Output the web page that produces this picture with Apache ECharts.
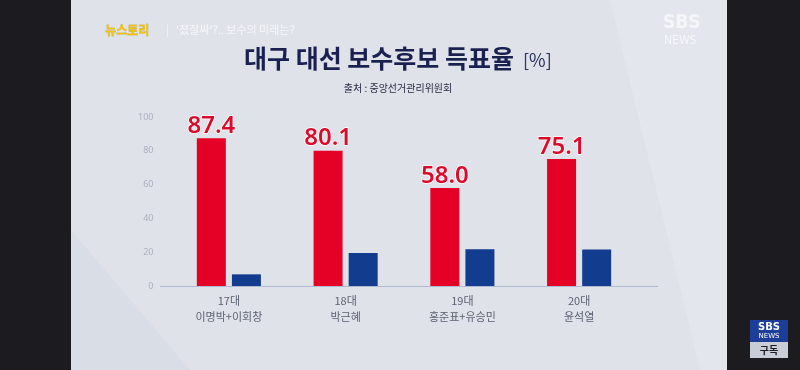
<!DOCTYPE html>
<html>
<head>
<meta charset="utf-8">
<script src="https://cdn.jsdelivr.net/npm/echarts@6/dist/echarts.min.js"></script>
<style>
html,body{margin:0;padding:0;background:#1c1b1f;}
#chart{width:800px;height:370px;}
</style>
</head>
<body>
<div id="chart"></div>
<script>
var categories = ['17대\n이명박+이회창', '18대\n박근혜', '19대\n홍준표+유승민', '20대\n윤석열'];
var conservativeVotes = [87.4, 80.1, 58.0, 75.1];
var opponentVotes = [6.9, 19.5, 21.8, 21.6];
var yTicks = { min: 0, max: 100, interval: 20 };

var KR = '"Noto Sans CJK KR", "Noto Sans", sans-serif';

var chart = echarts.init(document.getElementById('chart'), null, { renderer: 'canvas' });
chart.setOption({
  backgroundColor: '#dfe2e9',
  animation: false,
  grid: { left: 170.5, right: 162.5, top: 117, bottom: 84 },
  xAxis: {
    type: 'category',
    data: categories,
    axisLine: { show: false },
    axisTick: { show: false },
    axisLabel: {
      margin: 7,
      color: '#5c6272',
      fontSize: 11,
      lineHeight: 16,
      fontFamily: KR
    }
  },
  yAxis: {
    type: 'value',
    min: yTicks.min,
    max: yTicks.max,
    interval: yTicks.interval,
    axisLine: { show: false },
    axisTick: { show: false },
    splitLine: { show: false },
    axisLabel: { color: '#aab0bc', fontSize: 9, margin: 17, fontFamily: '"Noto Sans", sans-serif' }
  },
  series: [
    {
      type: 'bar',
      data: conservativeVotes,
      barWidth: 29,
      barGap: '21%',
      itemStyle: { color: '#e50025' },
      z: 5,
      label: {
        show: true,
        position: 'top',
        distance: 0,
        formatter: function (p) { return p.value.toFixed(1); },
        color: '#d90c2c',
        fontSize: 24,
        fontWeight: 600,
        fontFamily: '"Noto Sans", sans-serif',
        textBorderColor: '#ffffff',
        textBorderWidth: 1.5
      }
    },
    {
      type: 'bar',
      data: opponentVotes,
      barWidth: 29,
      barGap: '21%',
      itemStyle: { color: '#123c8e' },
      z: 5
    }
  ],
  graphic: [
    // subtle diagonal light band on the right of the panel
    { type: 'polygon', z: -10, shape: { points: [[610, 0], [727, 0], [727, 370], [700, 370]] },
      style: { fill: 'rgba(255,255,255,0.14)' }, silent: true },
    { type: 'polygon', z: -10, shape: { points: [[71, 230], [190, 370], [71, 370]] },
      style: { fill: 'rgba(120,130,150,0.05)' }, silent: true },
    // dark side bars
    { type: 'rect', shape: { x: 0, y: 0, width: 71, height: 370 }, style: { fill: '#1c1b1f' } },
    { type: 'rect', shape: { x: 727, y: 0, width: 73, height: 370 }, style: { fill: '#1c1b1f' } },
    // baseline
    { type: 'line', z: 4, shape: { x1: 160, y1: 286.5, x2: 658, y2: 286.5 },
      style: { stroke: '#aebad2', lineWidth: 1 } },
    // header strip
    { type: 'text', left: 105, top: 24, style: { text: '뉴스토리', fill: '#f2c40f', font: 'bold 12px ' + KR,
      stroke: '#b89208', lineWidth: 0.3 } },
    { type: 'text', left: 166, top: 24, style: { text: '|', fill: '#f3f5f8', font: '11px ' + KR } },
    { type: 'text', left: 176, top: 24, style: { text: "'졌잘싸'?.. 보수의 미래는?", fill: '#f4f6f9', font: '11px ' + KR } },
    // SBS NEWS top-right
    { type: 'text', left: 663, top: 14, style: { text: 'SBS', fill: '#f5f6f9', font: 'bold 19px "Liberation Sans Narrow", "DejaVu Sans Condensed", sans-serif' } },
    { type: 'text', left: 664, top: 35, style: { text: 'NEWS', fill: '#f5f6f9', font: '12px "Liberation Sans Narrow", "DejaVu Sans Condensed", sans-serif' } },
    // title
    { type: 'text', x: 379, y: 58, style: { text: '대구 대선 보수후보 득표율', fill: '#1a2150',
      font: 'bold 25px ' + KR, align: 'center', verticalAlign: 'middle' } },
    { type: 'text', x: 523, y: 60, style: { text: '[%]', fill: '#2b3160',
      font: '18px ' + KR, align: 'left', verticalAlign: 'middle' } },
    { type: 'text', x: 398, y: 88, style: { text: '출처 : 중앙선거관리위원회', fill: '#262b40',
      font: '10px ' + KR, align: 'center', verticalAlign: 'middle' } },
    // subscribe badge bottom-right
    { type: 'rect', shape: { x: 750, y: 320, width: 38, height: 22 }, style: { fill: '#1d3e98' } },
    { type: 'text', x: 769, y: 327, style: { text: 'SBS', fill: '#ffffff', font: 'bold 10px "DejaVu Sans", sans-serif',
      align: 'center', verticalAlign: 'middle' } },
    { type: 'text', x: 769, y: 336.5, style: { text: 'NEWS', fill: '#ffffff', font: '7px "DejaVu Sans", sans-serif',
      align: 'center', verticalAlign: 'middle' } },
    { type: 'rect', shape: { x: 750, y: 342, width: 38, height: 16 }, style: { fill: '#c9cdd6' } },
    { type: 'text', x: 769, y: 350, style: { text: '구독', fill: '#1d1d29', font: 'bold 10px ' + KR,
      align: 'center', verticalAlign: 'middle' } }
  ]
});
</script>
</body>
</html>
